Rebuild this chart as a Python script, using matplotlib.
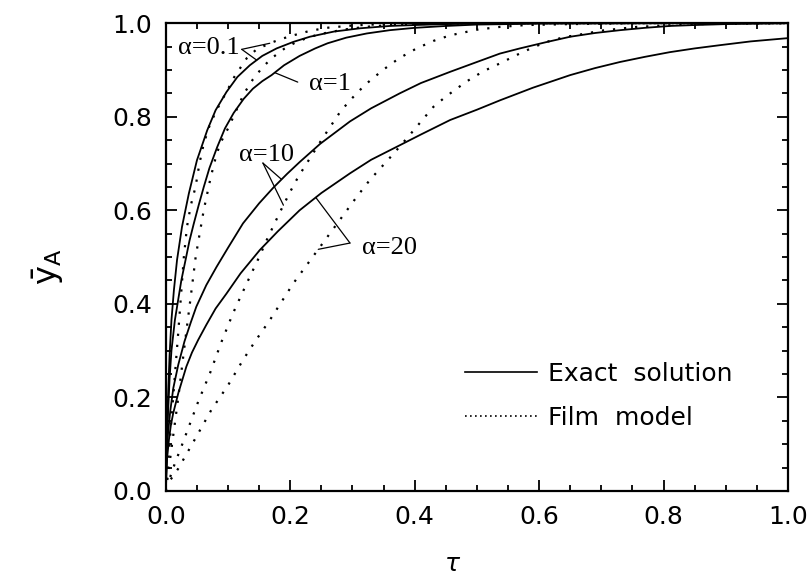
import numpy as np
import matplotlib
matplotlib.use("Agg")
import matplotlib.pyplot as plt
from matplotlib.ticker import MultipleLocator
from matplotlib.lines import Line2D

# ---- data ----
tau_exact_01 = [0, 0.001, 0.002, 0.004, 0.006, 0.009, 0.013, 0.018, 0.026, 0.037, 0.050, 0.0665, 0.080, 0.0975, 0.115, 0.135, 0.155, 0.178, 0.205, 0.2315, 0.27, 0.312, 0.36, 0.40, 0.45, 0.50, 0.60, 0.80, 1.0]
y_exact_01 = [0, 0.09, 0.14, 0.22, 0.29, 0.365, 0.43, 0.494, 0.565, 0.636, 0.707, 0.771, 0.814, 0.853, 0.885, 0.910, 0.930, 0.946, 0.960, 0.971, 0.982, 0.989, 0.994, 0.996, 0.998, 0.999, 1.0, 1.0, 1.0]

tau_film_01 = [0, 0.01, 0.02, 0.029, 0.034, 0.04, 0.0477, 0.054, 0.061, 0.07, 0.08, 0.09, 0.0975, 0.11, 0.12, 0.13, 0.145, 0.167, 0.185, 0.205, 0.23, 0.258, 0.3, 0.35, 0.42, 0.5, 1.0]
y_film_01 = [0, 0.17, 0.34, 0.501, 0.565, 0.61, 0.650, 0.70, 0.743, 0.78, 0.81, 0.835, 0.853, 0.885, 0.905, 0.925, 0.943, 0.957, 0.966, 0.974, 0.983, 0.990, 0.995, 0.998, 0.999, 1.0, 1.0]

tau_exact_1 = [0, 0.001, 0.002, 0.004, 0.006, 0.009, 0.0145, 0.02, 0.025, 0.0317, 0.038, 0.045, 0.053, 0.061, 0.07, 0.0825, 0.095, 0.109, 0.125, 0.14, 0.155, 0.17, 0.19, 0.215, 0.24, 0.26, 0.29, 0.323, 0.36, 0.40, 0.45, 0.50, 0.60, 0.80, 1.0]
y_exact_1 = [0, 0.08, 0.12, 0.18, 0.24, 0.30, 0.365, 0.41, 0.451, 0.494, 0.535, 0.572, 0.612, 0.650, 0.690, 0.735, 0.775, 0.808, 0.838, 0.860, 0.876, 0.889, 0.910, 0.930, 0.946, 0.957, 0.969, 0.978, 0.985, 0.990, 0.994, 0.997, 0.999, 1.0, 1.0]

tau_film_1 = [0, 0.01, 0.02, 0.03, 0.04, 0.048, 0.055, 0.061, 0.072, 0.08, 0.087, 0.1, 0.112, 0.125, 0.14, 0.155, 0.17, 0.19, 0.21, 0.235, 0.26, 0.29, 0.32, 0.36, 0.40, 0.5, 1.0]
y_film_1 = [0, 0.10, 0.20, 0.31, 0.415, 0.501, 0.555, 0.601, 0.67, 0.712, 0.742, 0.775, 0.81, 0.848, 0.88, 0.905, 0.925, 0.945, 0.96, 0.972, 0.98, 0.987, 0.992, 0.996, 0.998, 1.0, 1.0]

tau_exact_10 = [0, 0.001, 0.002, 0.004, 0.007, 0.012, 0.02, 0.03, 0.04, 0.049, 0.065, 0.0815, 0.1, 0.124, 0.15, 0.1725, 0.195, 0.215, 0.248, 0.296, 0.33, 0.376, 0.41, 0.457, 0.5, 0.537, 0.569, 0.61, 0.650, 0.69, 0.730, 0.77, 0.81, 0.85, 0.9, 0.95, 1.0]
y_exact_10 = [0, 0.06, 0.10, 0.13, 0.17, 0.22, 0.27, 0.32, 0.36, 0.394, 0.44, 0.479, 0.52, 0.572, 0.615, 0.648, 0.678, 0.703, 0.742, 0.790, 0.818, 0.850, 0.872, 0.896, 0.917, 0.935, 0.946, 0.959, 0.971, 0.979, 0.985, 0.990, 0.994, 0.996, 0.998, 0.999, 1.0]

tau_film_10 = [0.007, 0.0145, 0.025, 0.036, 0.052, 0.071, 0.0895, 0.108, 0.12, 0.135, 0.15, 0.162, 0.183, 0.2, 0.213, 0.232, 0.25, 0.264, 0.28, 0.296, 0.32, 0.349, 0.375, 0.403, 0.43, 0.457, 0.5, 0.537, 0.58, 0.65, 0.78, 1.0]
y_film_10 = [0.03, 0.059, 0.095, 0.134, 0.191, 0.252, 0.319, 0.38, 0.415, 0.458, 0.50, 0.536, 0.595, 0.64, 0.672, 0.712, 0.75, 0.778, 0.81, 0.835, 0.868, 0.900, 0.925, 0.946, 0.962, 0.974, 0.986, 0.992, 0.996, 0.998, 1.0, 1.0]

tau_exact_20 = [0, 0.001, 0.002, 0.005, 0.008, 0.0118, 0.020, 0.033, 0.042, 0.052, 0.065, 0.08, 0.0975, 0.12, 0.151, 0.18, 0.215, 0.25, 0.296, 0.33, 0.376, 0.41, 0.457, 0.5, 0.537, 0.59, 0.650, 0.69, 0.730, 0.77, 0.810, 0.85, 0.891, 0.94, 1.0]
y_exact_20 = [0, 0.04, 0.07, 0.11, 0.14, 0.166, 0.209, 0.266, 0.296, 0.323, 0.355, 0.39, 0.422, 0.465, 0.515, 0.555, 0.600, 0.637, 0.679, 0.708, 0.739, 0.762, 0.793, 0.815, 0.835, 0.862, 0.889, 0.904, 0.917, 0.928, 0.938, 0.946, 0.953, 0.961, 0.968]

tau_film_20 = [0.008, 0.020, 0.049, 0.073, 0.100, 0.124, 0.143, 0.167, 0.205, 0.248, 0.28, 0.307, 0.328, 0.366, 0.392, 0.430, 0.45, 0.483, 0.51, 0.537, 0.564, 0.59, 0.612, 0.64, 0.676, 0.70, 0.757, 0.85, 1.0]
y_film_20 = [0.025, 0.048, 0.116, 0.173, 0.226, 0.280, 0.319, 0.365, 0.444, 0.522, 0.58, 0.629, 0.665, 0.721, 0.761, 0.821, 0.843, 0.875, 0.897, 0.914, 0.932, 0.948, 0.960, 0.970, 0.978, 0.984, 0.992, 0.998, 1.0]

x_ticks = [0.0, 0.2, 0.4, 0.6, 0.8, 1.0]
y_ticks = [0.0, 0.2, 0.4, 0.6, 0.8, 1.0]
legend_labels = ["Exact  solution", "Film  model"]

# ---- figure ----
fig = plt.figure(figsize=(8.09, 5.79), dpi=100)
ax = fig.add_axes([0.205, 0.152, 0.769, 0.808])

lw = 1.3
dlw = 1.6
dot_style = (0, (1, 4))
ax.plot(tau_exact_01, y_exact_01, color="black", lw=lw)
ax.plot(tau_exact_1, y_exact_1, color="black", lw=lw)
ax.plot(tau_exact_10, y_exact_10, color="black", lw=lw)
ax.plot(tau_exact_20, y_exact_20, color="black", lw=lw)
ax.plot(tau_film_01, y_film_01, color="black", lw=dlw, ls=dot_style)
ax.plot(tau_film_1, y_film_1, color="black", lw=dlw, ls=dot_style)
ax.plot(tau_film_10, y_film_10, color="black", lw=dlw, ls=dot_style)
ax.plot(tau_film_20, y_film_20, color="black", lw=dlw, ls=dot_style)

ax.set_xlim(0, 1)
ax.set_ylim(0, 1)
ax.set_xticks(x_ticks)
ax.set_yticks(y_ticks)
ax.set_xticklabels([f"{v:.1f}" for v in x_ticks])
ax.set_yticklabels([f"{v:.1f}" for v in y_ticks])
ax.xaxis.set_minor_locator(MultipleLocator(0.05))
ax.yaxis.set_minor_locator(MultipleLocator(0.05))
ax.tick_params(which="both", direction="in", top=True, right=True, width=1.3)
ax.tick_params(which="major", length=8, labelsize=18, pad=10)
ax.tick_params(which="minor", length=4)
for s in ax.spines.values():
    s.set_linewidth(1.6)

ax.set_xlabel(r"$\tau$", fontsize=18)
ax.xaxis.set_label_coords(0.461, -0.13)
ax.set_ylabel(r"$\bar{\mathsf{y}}_{\mathsf{A}}$", fontsize=23)
ax.yaxis.set_label_coords(-0.16, 0.48)

h1 = Line2D([], [], color="black", lw=1.2)
h2 = Line2D([], [], color="black", lw=1.2, ls=(0, (1, 2)))
leg = ax.legend([h1, h2], legend_labels, loc="center left", bbox_to_anchor=(0.444, 0.203),
                frameon=False, fontsize=18, handlelength=2.9, handletextpad=0.44,
                labelspacing=0.8, borderpad=0.4)

# ---- alpha labels with leader lines ----
lab_font = dict(family="Liberation Serif", fontsize=19)
line_kw = dict(arrowstyle="-", color="black", lw=0.9, shrinkA=0, shrinkB=0)

def pt(t_arr, y_arr, t):
    return (t, float(np.interp(t, t_arr, y_arr)))

ax.text(0.069, 0.947, "α=0.1", ha="center", va="center", **lab_font)
ax.annotate("", xy=pt(tau_film_01, y_film_01, 0.167), xytext=(0.122, 0.944), arrowprops=line_kw)
ax.annotate("", xy=pt(tau_exact_01, y_exact_01, 0.146), xytext=(0.122, 0.944), arrowprops=line_kw)

ax.text(0.264, 0.870, "α=1", ha="center", va="center", **lab_font)
ax.annotate("", xy=pt(tau_exact_1, y_exact_1, 0.175), xytext=(0.212, 0.874), arrowprops=line_kw)

ax.text(0.161, 0.718, "α=10", ha="center", va="center", **lab_font)
ax.annotate("", xy=pt(tau_exact_10, y_exact_10, 0.186), xytext=(0.156, 0.701), arrowprops=line_kw)
ax.annotate("", xy=pt(tau_film_10, y_film_10, 0.189), xytext=(0.156, 0.701), arrowprops=line_kw)

ax.text(0.36, 0.519, "α=20", ha="center", va="center", **lab_font)
ax.annotate("", xy=pt(tau_exact_20, y_exact_20, 0.241), xytext=(0.296, 0.530), arrowprops=line_kw)
ax.annotate("", xy=pt(tau_film_20, y_film_20, 0.245), xytext=(0.296, 0.530), arrowprops=line_kw)

fig.savefig("out.png", dpi=100)
